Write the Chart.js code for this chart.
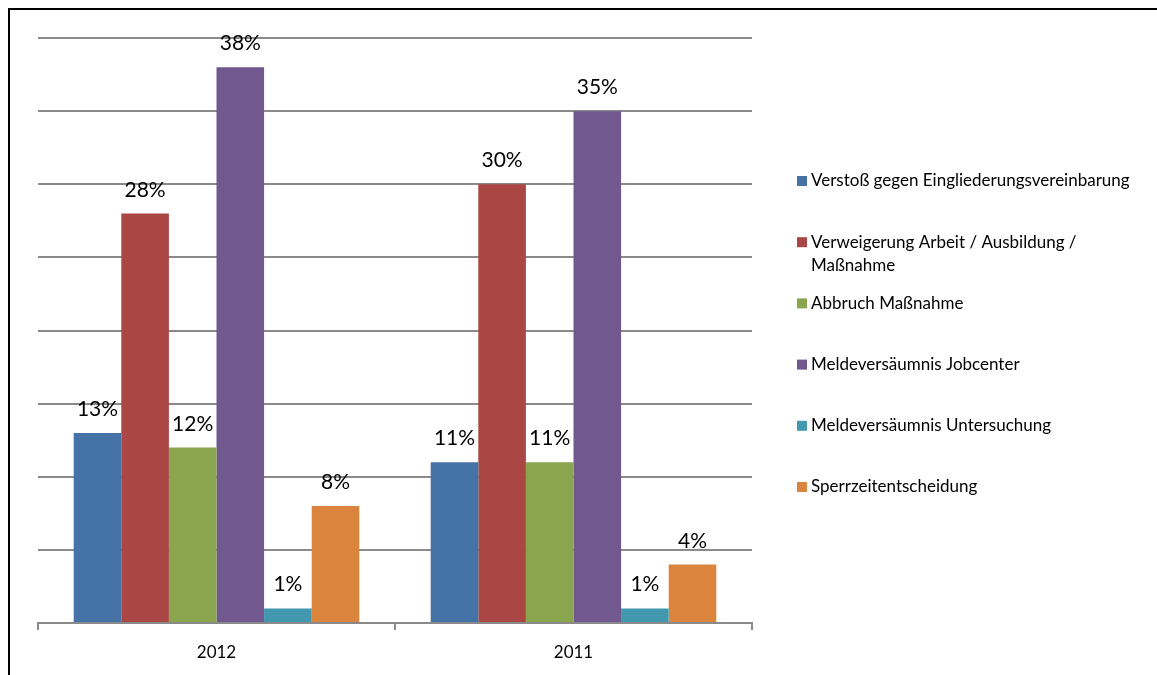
<!DOCTYPE html>
<html lang="de">
<head>
<meta charset="utf-8">
<title>Sanktionsgründe 2012 / 2011</title>
<script src="https://cdn.jsdelivr.net/npm/chart.js@4/dist/chart.umd.min.js"></script>
<style>
    html, body { margin: 0; padding: 0; background: #fff; }
    #wrap { position: relative; width: 1157px; height: 675px; }
    #frame {
        position: absolute; left: 8px; top: 8px; right: 0; bottom: 0;
        border-left: 2px solid #000; border-top: 2px solid #000;
        pointer-events: none;
    }
</style>
</head>
<body>
<div id="wrap">
    <canvas id="sanktionChart" width="1157" height="675"></canvas>
    <div id="frame"></div>
</div>
<script>
const years = ['2012', '2011'];

const seriesNames = [
    'Verstoß gegen Eingliederungsvereinbarung',
    'Verweigerung Arbeit / Ausbildung / Maßnahme',
    'Abbruch Maßnahme',
    'Meldeversäumnis Jobcenter',
    'Meldeversäumnis Untersuchung',
    'Sperrzeitentscheidung'
];

// Anteile in Prozent, je Jahr (2012, 2011)
const verstoss      = [13, 11];
const verweigerung  = [28, 30];
const abbruch       = [12, 11];
const meldeJobc     = [38, 35];
const meldeUnters   = [1, 1];
const sperrzeit     = [8, 4];

const seriesColors = ['#4572A7', '#AA4643', '#89A54E', '#71588F', '#4198AF', '#DB843D'];

const FONT = 'Lato, "Open Sans", sans-serif';

// Prozentwerte über den Balken
const valueLabels = {
    id: 'valueLabels',
    afterDatasetsDraw(chart) {
        const ctx = chart.ctx;
        ctx.save();
        ctx.font = '21px ' + FONT;
        ctx.fillStyle = '#000';
        ctx.textAlign = 'center';
        ctx.textBaseline = 'alphabetic';
        chart.data.datasets.forEach((ds, i) => {
            chart.getDatasetMeta(i).data.forEach((bar, j) => {
                ctx.fillText(ds.data[j] + '%', bar.x, bar.y - 17);
            });
        });
        ctx.restore();
    }
};

// Legende rechts, mit Zeilenumbruch für lange Einträge
const sideLegend = {
    id: 'sideLegend',
    afterDraw(chart) {
        const ctx = chart.ctx;
        const left = chart.chartArea.right + 45;
        const textX = left + 14;
        const maxW = 330;
        const firstY = 181, step = 61.2, lineH = 23;
        ctx.save();
        ctx.font = '17px ' + FONT;
        ctx.textBaseline = 'middle';
        ctx.textAlign = 'left';
        chart.data.datasets.forEach((ds, i) => {
            const y = firstY + step * i;
            ctx.fillStyle = ds.backgroundColor;
            ctx.fillRect(left, y - 5, 10, 10);
            ctx.fillStyle = '#000';
            const words = ds.label.split(' ');
            let line = '', ly = y;
            words.forEach(w => {
                const test = line ? line + ' ' + w : w;
                if (line && ctx.measureText(test).width > maxW) {
                    ctx.fillText(line, textX, ly);
                    line = w;
                    ly += lineH;
                } else {
                    line = test;
                }
            });
            ctx.fillText(line, textX, ly);
        });
        ctx.restore();
    }
};

const seriesData = [verstoss, verweigerung, abbruch, meldeJobc, meldeUnters, sperrzeit];

new Chart(document.getElementById('sanktionChart'), {
    type: 'bar',
    data: {
        labels: years,
        datasets: seriesNames.map((name, i) => ({
            label: name,
            data: seriesData[i],
            backgroundColor: seriesColors[i],
            borderWidth: 0,
            categoryPercentage: 0.8,
            barPercentage: 1.0
        }))
    },
    options: {
        responsive: false,
        animation: false,
        layout: { padding: { left: 38, top: 38, right: 405, bottom: 0 } },
        plugins: {
            legend: { display: false },
            tooltip: { enabled: false }
        },
        scales: {
            x: {
                grid: {
                    offset: true,
                    drawOnChartArea: false,
                    drawTicks: true,
                    tickLength: 7,
                    color: '#8a8a8a',
                    lineWidth: 2
                },
                border: { color: '#8a8a8a', width: 2 },
                ticks: {
                    color: '#000',
                    font: { family: FONT, size: 17 },
                    padding: 12
                },
                afterFit(scale) { scale.height = 52; }
            },
            y: {
                min: 0,
                max: 40,
                ticks: { stepSize: 5, display: false },
                grid: { color: '#8a8a8a', lineWidth: 2, drawTicks: false },
                border: { display: false },
                afterFit(scale) { scale.width = 0; }
            }
        }
    },
    plugins: [valueLabels, sideLegend]
});
</script>
</body>
</html>
